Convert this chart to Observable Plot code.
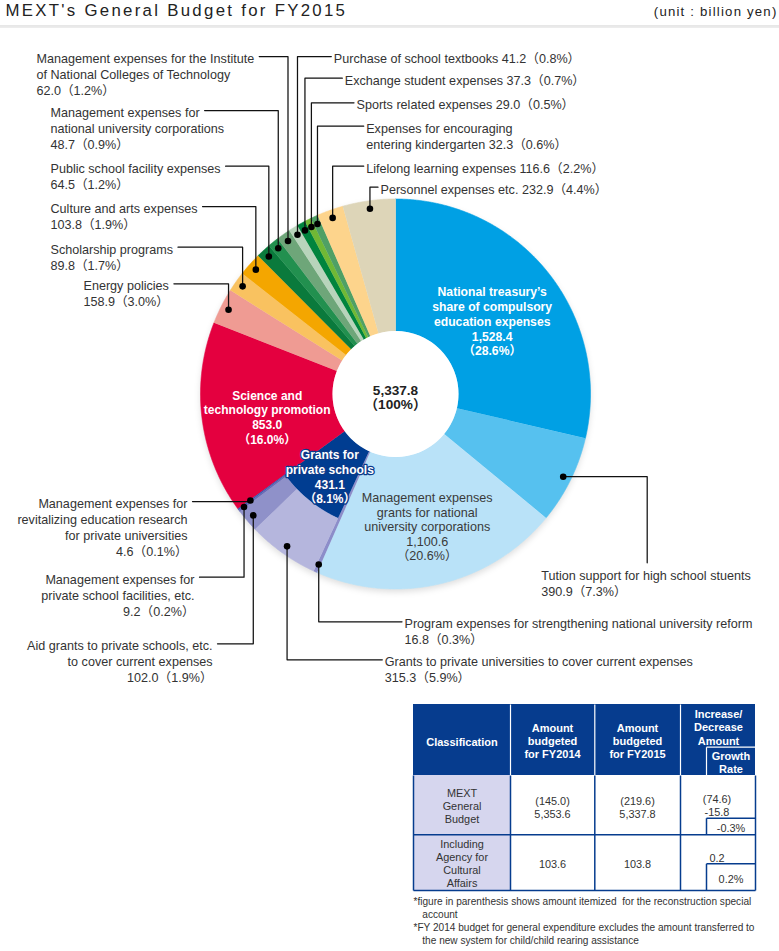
<!DOCTYPE html>
<html><head><meta charset="utf-8">
<script src="https://cdn.jsdelivr.net/npm/d3@7"></script>
<script src="https://cdn.jsdelivr.net/npm/@observablehq/plot@0.6"></script>
<style>
body{margin:0;background:#fff;}
.donut-shadow circle{filter:blur(3px);}
.title-text text{letter-spacing:2.3px;}
.unit-text text{letter-spacing:1.2px;}
</style></head><body><div id="chart"></div>
<script>
// ---------- DATA ----------
const mainNames = [
  "National treasury’s\nshare of compulsory\neducation expenses",
  "Tution support for high school stuents",
  "Management expenses\ngrants for national\nuniversity corporations",
  "Program expenses for strengthening national university reform",
  "Grants for\nprivate schools",
  "Science and\ntechnology promotion",
  "Energy policies",
  "Scholarship programs",
  "Culture and arts expenses",
  "Public school facility expenses",
  "Management expenses for\nnational university corporations",
  "Management expenses for the Institute\nof National Colleges of Technology",
  "Purchase of school textbooks",
  "Exchange student expenses",
  "Sports related expenses",
  "Expenses for encouraging\nentering kindergarten",
  "Lifelong learning expenses",
  "Personnel expenses etc."
];
const mainValues = [1528.4, 390.9, 1100.6, 16.8, 431.1, 853.0, 158.9, 89.8, 103.8, 64.5, 48.7, 62.0, 41.2, 37.3, 29.0, 32.3, 116.6, 232.9];
const mainShares = [28.6, 7.3, 20.6, 0.3, 8.1, 16.0, 3.0, 1.7, 1.9, 1.2, 0.9, 1.2, 0.8, 0.7, 0.5, 0.6, 2.2, 4.4];

const privateNames = [
  "Grants to private universities to cover current expenses",
  "Aid grants to private schools, etc.\nto cover current expenses",
  "Management expenses for\nprivate school facilities, etc.",
  "Management expenses for\nrevitalizing education research\nfor private universities"
];
const privateValues = [315.3, 102.0, 9.2, 4.6];
const privateShares = [5.9, 1.9, 0.2, 0.1];
const totalValue = 5337.8;
const totalShare = 100;

// table
const tableHeaders = ["Classification", "Amount\nbudgeted\nfor FY2014", "Amount\nbudgeted\nfor FY2015", "Increase/\nDecrease\nAmount", "Growth\nRate"];
const tableRowNames = ["MEXT\nGeneral\nBudget", "Including\nAgency for\nCultural\nAffairs"];
const recon2014 = [145.0, null];
const budget2014 = [5353.6, 103.6];
const recon2015 = [219.6, null];
const budget2015 = [5337.8, 103.8];
const reconDiff = [74.6, null];
const budgetDiff = [-15.8, 0.2];
const growthRate = [-0.3, 0.2];
const titleText = "MEXT's General Budget for FY2015";
const unitText = "(unit : billion yen)";
const footnotes = [
  "*figure in parenthesis shows amount itemized  for the reconstruction special",
  " account",
  "*FY 2014 budget for general expenditure excludes the amount transferred to",
  " the new system for child/child rearing assistance"
];

// ---------- STYLE ----------
const mainColors = ["#00A0E4", "#56C1EF", "#B9E2F8", "#8C8DC9", "#003D91", "#E4003F", "#EF9B93", "#F9C260", "#F4A600",
  "#0A7A3C", "#22904F", "#6EA679", "#B8D4BB", "#00843D", "#71B835", "#4FA065", "#FDD48C", "#DDD5B8"];
const privateColors = ["#B5B6DD", "#8F91C9", "#6A6CB6", "#3453AA"];
const FONT = "'Liberation Sans', Arial, 'Noto Sans CJK JP', sans-serif";
const W = 779, H = 951;
const cx = 395, cy = 393.5, R0 = 63, RM = 137, R1 = 195, RDOT = 187;
const FS = 12.6;
const fmt = v => d3.format(",.1f")(v).replace("−", "-");
const pct = s => "（" + s.toFixed(1) + "%）";

const measure = (() => { const c = document.createElement("canvas").getContext("2d");
  return (s, fs, w = "normal") => { c.font = `${w} ${fs}px ${FONT}`; return c.measureText(s).width; }; })();

// ---------- SLICES ----------
const arcs = d3.pie().sort(null).value(d => d)(mainValues);
const total = d3.sum(mainValues);
const slices = {};
mainValues.forEach((v, i) => {
  slices["m" + i] = {id: "m" + i, a0: arcs[i].startAngle, a1: arcs[i].endAngle, r0: R0, r1: i === 4 ? RM : R1,
    color: mainColors[i], name: mainNames[i], value: v, share: mainShares[i]};
});
let acc = arcs[4].startAngle;
privateValues.forEach((v, j) => {
  const a1 = acc + v / total * 2 * Math.PI;
  slices["p" + j] = {id: "p" + j, a0: acc, a1, r0: RM, r1: R1, color: privateColors[j], name: privateNames[j], value: v, share: privateShares[j]};
  acc = a1;
});
const slicePts = [];
for (const s of Object.values(slices)) {
  const n = Math.max(2, Math.ceil((s.a1 - s.a0) / (Math.PI / 720)));
  for (let k = 0; k <= n; k++) { const t = s.a0 + (s.a1 - s.a0) * k / n; slicePts.push({id: s.id, color: s.color, x: cx + s.r1 * Math.sin(t), y: cy - s.r1 * Math.cos(t)}); }
  for (let k = n; k >= 0; k--) { const t = s.a0 + (s.a1 - s.a0) * k / n; slicePts.push({id: s.id, color: s.color, x: cx + s.r0 * Math.sin(t), y: cy - s.r0 * Math.cos(t)}); }
}

// ---------- OUTSIDE LABELS ----------
const labelLayout = [
  {key: "m11", x: 36, y: 56, anchor: "start"},
  {key: "m10", x: 50, y: 110, anchor: "start"},
  {key: "m9", x: 50, y: 165.7, anchor: "start"},
  {key: "m8", x: 50, y: 206, anchor: "start"},
  {key: "m7", x: 50, y: 246.7, anchor: "start"},
  {key: "m6", x: 83, y: 283.3, anchor: "start"},
  {key: "m12", x: 333.3, y: 56, anchor: "start", inline: true},
  {key: "m13", x: 344.3, y: 77.7, anchor: "start", inline: true},
  {key: "m14", x: 356, y: 102.3, anchor: "start", inline: true},
  {key: "m15", x: 365.7, y: 125.7, anchor: "start", inline: true},
  {key: "m16", x: 365.7, y: 165.7, anchor: "start", inline: true},
  {key: "m17", x: 380, y: 186.7, anchor: "start", inline: true},
  {key: "m1", x: 540.7, y: 573.3, anchor: "start", elbowX: 646.7},
  {key: "m3", x: 404, y: 621.3, anchor: "start"},
  {key: "p0", x: 384.3, y: 659.3, anchor: "start"},
  {key: "p1", x: 212, y: 643.3, anchor: "end"},
  {key: "p2", x: 194, y: 576.7, anchor: "end", r: 189},
  {key: "p3", x: 187, y: 501, anchor: "end", r: 180}
];
const leaders = [], dots = [], labelsStart = [], labelsEnd = [];
for (const L of labelLayout) {
  const s = slices[L.key];
  const mid = (s.a0 + s.a1) / 2, r = L.r ?? RDOT;
  const d = {x: cx + r * Math.sin(mid), y: cy - r * Math.cos(mid)};
  dots.push(d);
  const text = s.name + (L.inline ? " " : "\n") + fmt(s.value) + pct(s.share);
  const first = text.split("\n")[0];
  let pts;
  if (L.elbowX) pts = [d, {x: L.elbowX, y: d.y}, {x: L.elbowX, y: L.y - 11}];
  else {
    let ex;
    if (L.anchor === "end") ex = L.x + 5;
    else if (L.x > d.x) ex = L.x - 2.5;
    else ex = L.x + measure(first, FS) + 5;
    pts = [d, {x: d.x, y: L.y}, {x: ex, y: L.y}];
  }
  pts.forEach(p => leaders.push({...p, id: L.key}));
  (L.anchor === "end" ? labelsEnd : labelsStart).push({x: L.x, y: L.y - 0.39 * FS, text});
}

// ---------- INSIDE LABELS ----------
const inside = [
  {key: "m0", x: 491.7, y: 290, fs: 12.2, bold: true, fill: "white", lh: 1.21},
  {key: "m5", x: 266.7, y: 393.3, fs: 12, bold: true, fill: "white", lh: 1.23},
  {key: "m4", x: 329.3, y: 452.7, fs: 12, bold: true, fill: "white", lh: 1.23, stroke: "#0b3a8a"},
  {key: "m2", x: 426.7, y: 496, fs: 12.6, bold: false, fill: "#3a3a3a", lh: 1.16}
].map(o => { const s = slices[o.key]; return {...o, y: o.y - 0.39 * o.fs, text: s.name + "\n" + fmt(s.value) + "\n" + pct(s.share)}; });
const centerText = fmt(totalValue) + "\n（" + totalShare + "%）";

// ---------- TABLE ----------
const NAVY = "#063C8E", LAV = "#D6D6EE";
const tx = [413, 510, 594.3, 680, 755], ty = [704, 775, 834.3, 890], subX = 706, subHeadY = 746.7, subRowY = [817.7, 863.3];
const cells = [
  {x1: tx[0], x2: tx[4], y1: ty[0], y2: ty[1], fill: NAVY},
  {x1: tx[0], x2: tx[1], y1: ty[1], y2: ty[3], fill: LAV},
  {x1: tx[1], x2: tx[4], y1: ty[1], y2: ty[3], fill: "white"}
];
const whiteLines = [
  {x1: tx[1], y1: ty[0], x2: tx[1], y2: ty[1]},
  {x1: tx[2], y1: ty[0], x2: tx[2], y2: ty[1]},
  {x1: tx[3], y1: ty[0], x2: tx[3], y2: ty[1]},
  {x1: subX, y1: subHeadY, x2: tx[4], y2: subHeadY},
  {x1: subX, y1: subHeadY, x2: subX, y2: ty[1]}
];
const navyLines = [
  {x1: tx[0], y1: ty[3], x2: tx[4], y2: ty[3]},
  {x1: tx[0], y1: ty[2], x2: tx[4], y2: ty[2]},
  {x1: tx[0], y1: ty[1], x2: tx[0], y2: ty[3]},
  {x1: tx[4], y1: ty[1], x2: tx[4], y2: ty[3]},
  {x1: tx[1], y1: ty[1], x2: tx[1], y2: ty[3]},
  {x1: tx[2], y1: ty[1], x2: tx[2], y2: ty[3]},
  {x1: tx[3], y1: ty[1], x2: tx[3], y2: ty[3]},
  ...subRowY.map(y => ({x1: subX, y1: y, x2: tx[4], y2: y})),
  ...subRowY.map((y, i) => ({x1: subX, y1: y, x2: subX, y2: ty[i + 2]}))
];
const TFS = 11, BFS = 10.9;
const headTexts = [
  {x: 461.5, y: 740, text: tableHeaders[0]},
  {x: 552, y: 726, text: tableHeaders[1]},
  {x: 637, y: 726, text: tableHeaders[2]},
  {x: 718, y: 712.7, text: tableHeaders[3]},
  {x: 730.5, y: 754.7, text: tableHeaders[4]}
].map(d => ({...d, y: d.y - 0.39 * TFS}));
const pair = (a, b) => (a == null ? "" : "(" + a.toFixed(1) + ")\n") + fmt(b);
const bodyTexts = [
  {x: 461.5, y: 791.7, text: tableRowNames[0]},
  {x: 461.5, y: 842.7, text: tableRowNames[1]},
  {x: 552, y: 799, text: pair(recon2014[0], budget2014[0])},
  {x: 552, y: 862.7, text: pair(recon2014[1], budget2014[1])},
  {x: 637, y: 799, text: pair(recon2015[0], budget2015[0])},
  {x: 637, y: 862.7, text: pair(recon2015[1], budget2015[1])},
  {x: 716.5, y: 797, text: pair(reconDiff[0], budgetDiff[0])},
  {x: 716.5, y: 856, text: pair(reconDiff[1], budgetDiff[1])},
  {x: 730.5, y: 826.7, text: growthRate[0].toFixed(1) + "%"},
  {x: 730.5, y: 877, text: growthRate[1].toFixed(1) + "%"}
].map(d => ({...d, y: d.y - 0.39 * BFS}));
const noteTexts = [
  {x: 413, y: 901.7, text: footnotes[0]},
  {x: 419, y: 914.3, text: footnotes[1]},
  {x: 413, y: 927.7, text: footnotes[2]},
  {x: 419, y: 940.7, text: footnotes[3]}
];

// ---------- PLOT ----------
const chart = Plot.plot({
  width: W, height: H, margin: 0,
  x: {domain: [0, W], range: [0, W], axis: null},
  y: {domain: [0, H], range: [0, H], axis: null},
  color: {type: "identity"},
  style: {fontFamily: FONT, background: "white", overflow: "visible"},
  marks: [
    // title
    Plot.text([titleText], {x: 5, y: 10.3, text: d => d, textAnchor: "start", fontSize: 16.8, fill: "#222", className: "title-text"}),
    Plot.text([unitText], {x: 777, y: 11.2, text: d => d, textAnchor: "end", fontSize: 13.2, fill: "#222", className: "unit-text"}),
    Plot.ruleY([25.5], {stroke: "#cfcfcf", strokeWidth: 1}),
    Plot.ruleY([26.8], {stroke: "#ececec", strokeWidth: 1.5}),
    // donut
    Plot.dot([{x: cx, y: cy + 3}], {x: "x", y: "y", r: R1, fill: "#000", fillOpacity: 0.13, className: "donut-shadow"}),
    Plot.dot([{x: cx, y: cy}], {x: "x", y: "y", r: R1 - 0.5, fill: "white"}),
    Plot.line(slicePts, {x: "x", y: "y", z: "id", fill: "color", stroke: "color", strokeWidth: 0.6, curve: "linear"}),
    Plot.dot([{x: cx, y: cy}], {x: "x", y: "y", r: R0, fill: "white"}),
    Plot.text([centerText], {x: cx, y: 389.3 - 0.39 * 13.6, text: d => d, lineAnchor: "top", lineHeight: 1.04, fontSize: 13.6, fontWeight: "bold", fill: "#222"}),
    // inside labels
    ...inside.map(o => Plot.text([o], {x: "x", y: "y", text: "text", lineAnchor: "top", lineHeight: o.lh, fontSize: o.fs,
      fontWeight: o.bold ? "bold" : "normal", fill: o.fill, stroke: o.stroke ?? null, strokeWidth: o.stroke ? 2.6 : undefined, paintOrder: "stroke"})),
    // leaders
    Plot.line(leaders, {x: "x", y: "y", z: "id", stroke: "#111", strokeWidth: 1.25, curve: "linear"}),
    Plot.dot(dots, {x: "x", y: "y", r: 3.3, fill: "#000"}),
    Plot.text(labelsStart, {x: "x", y: "y", text: "text", textAnchor: "start", lineAnchor: "top", lineHeight: 1.27, fontSize: FS, fill: "#333"}),
    Plot.text(labelsEnd, {x: "x", y: "y", text: "text", textAnchor: "end", lineAnchor: "top", lineHeight: 1.27, fontSize: FS, fill: "#333"}),
    // table
    Plot.rect(cells, {x1: "x1", x2: "x2", y1: "y1", y2: "y2", fill: "fill"}),
    Plot.link(whiteLines, {x1: "x1", y1: "y1", x2: "x2", y2: "y2", stroke: "white", strokeWidth: 1.2}),
    Plot.link(navyLines, {x1: "x1", y1: "y1", x2: "x2", y2: "y2", stroke: NAVY, strokeWidth: 1.5}),
    Plot.text(headTexts, {x: "x", y: "y", text: "text", lineAnchor: "top", lineHeight: 1.2, fontSize: TFS, fontWeight: "bold", fill: "white"}),
    Plot.text(bodyTexts, {x: "x", y: "y", text: "text", lineAnchor: "top", lineHeight: 1.2, fontSize: BFS, fill: "#333"}),
    Plot.text(noteTexts, {x: "x", y: "y", text: "text", textAnchor: "start", fontSize: 10.1, fill: "#333"})
  ]
});
document.getElementById("chart").appendChild(chart);
</script></body></html>
